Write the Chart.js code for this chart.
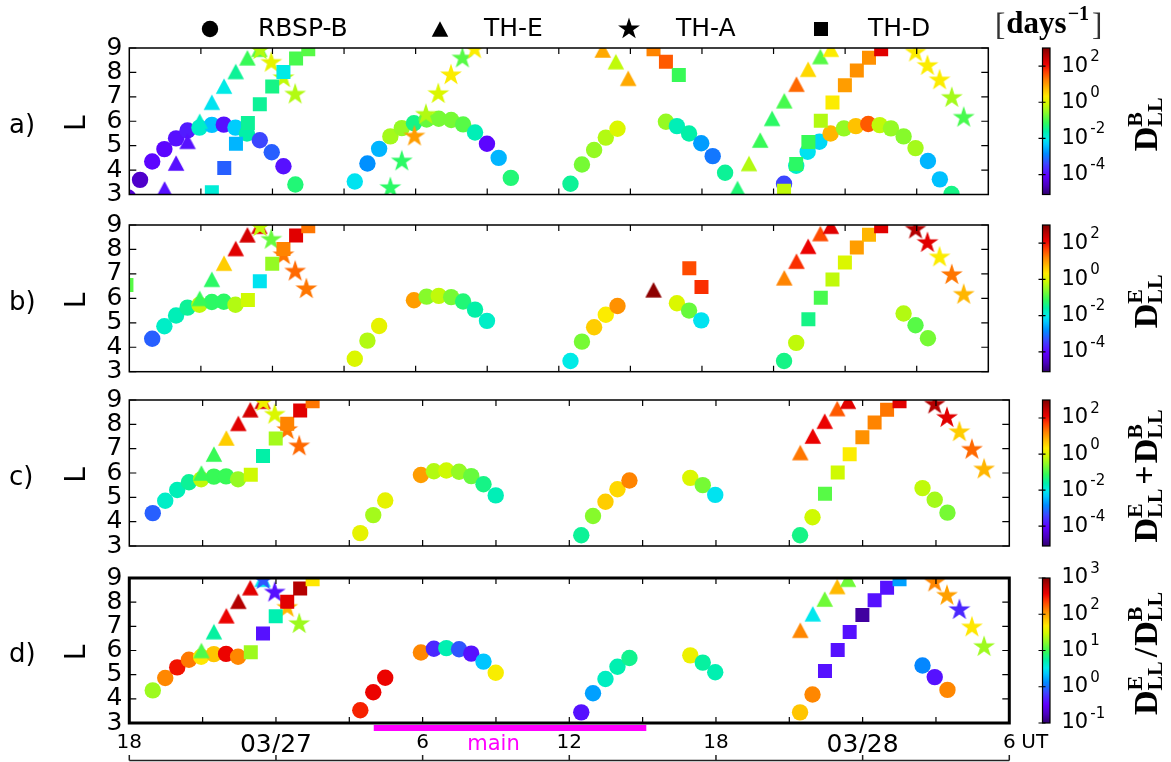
<!DOCTYPE html>
<html>
<head>
<meta charset="utf-8">
<title>Radial diffusion coefficients along spacecraft orbits</title>
<script src="https://cdn.jsdelivr.net/npm/chart.js@4.4.1/dist/chart.umd.min.js"></script>
<style>
  html, body { margin: 0; padding: 0; background: #ffffff; }
  #figure { position: relative; width: 1171px; height: 762px; overflow: hidden; background: #fff; }
  #figure canvas { position: absolute; left: 0; top: 0; }
</style>
</head>
<body>
<div id="figure">
  <canvas id="panelA" width="1171" height="762"></canvas>
  <canvas id="panelB" width="1171" height="762"></canvas>
  <canvas id="panelC" width="1171" height="762"></canvas>
  <canvas id="panelD" width="1171" height="762"></canvas>
</div>
<script>
// Time axis: hours since 03/26 18:00 UT (0 ... 36 h)
const hourTicks = [0, 6, 12, 18, 24, 30, 36];
const hourTickLabels = ['18', '03/27', '6', '12', '18', '03/28', '6'];
const mainPhase = [10.0, 21.15];
const lTicks = [3, 4, 5, 6, 7, 8, 9];

// ---- RBSP-B (circles) ----
const rbspTime = [-0.05, 0.45, 0.96, 1.47, 1.96, 2.44, 2.94, 3.46, 3.96, 4.45, 4.93, 5.47, 5.97, 6.46, 6.96,
  9.45, 9.98, 10.47, 10.94, 11.42, 11.93, 12.46, 12.97, 13.49, 13.99, 14.49, 14.99, 15.48, 15.99,
  18.49, 18.97, 19.48, 19.97, 20.46, 22.49, 22.95, 23.46, 23.97, 24.45, 24.97,
  27.44, 27.95, 28.43, 28.92, 29.39, 29.95, 30.45, 30.97, 31.45, 31.92, 32.45, 32.95, 33.47, 33.97, 34.46];
const rbspL = [2.88, 3.6, 4.35, 4.86, 5.3, 5.62, 5.74, 5.85, 5.86, 5.74, 5.5, 5.22, 4.73, 4.16, 3.41,
  3.53, 4.27, 4.87, 5.38, 5.72, 5.92, 6.07, 6.1, 6.05, 5.87, 5.54, 5.08, 4.5, 3.68,
  3.44, 4.23, 4.82, 5.33, 5.69, 5.98, 5.8, 5.5, 5.1, 4.57, 3.89,
  3.44, 4.18, 4.75, 5.16, 5.5, 5.71, 5.8, 5.89, 5.84, 5.71, 5.38, 4.9, 4.37, 3.62, 3.02];
// log10 of D_LL^B, D_LL^E, D_LL^E + D_LL^B and D_LL^E / D_LL^B  (days^-1)
const rbspLogDB = [-4.4, -4.5, -4.0, -4.0, -3.9, -3.8, -1.8, -2.4, -3.9, -2.3, -1.6, -3.4, -3.2, -3.9, -1.3,
  -2.1, -2.8, -2.5, -0.4, -0.5, -1.4, -0.8, -0.7, -0.7, -0.9, -1.7, -4.0, -2.5, -1.3,
  -1.5, -0.7, -0.5, -0.3, 0.0, -0.5, -1.7, -1.6, -2.7, -3.0, -1.5,
  -3.4, -1.8, -2.1, -2.2, 0.8, -0.5, 0.7, 1.5, -0.2, -0.5, -0.6, -0.4, -2.5, -2.4, -1.4];
const rbspLogDE = [null, null, -3.2, -1.8, -1.7, -1.5, -0.2, -1.2, -1.2, -0.3, null, null, null, null, null,
  0.0, -0.3, 0.1, null, null, 1.0, -0.6, -0.2, -0.7, -1.3, -1.6, -1.8, null, null,
  -2.0, -0.7, 0.6, 0.3, 1.1, null, 0.0, -0.8, -2.1, null, null,
  -1.4, -0.2, null, null, null, null, null, null, null, null, -0.3, -0.9, -0.7, null, null];
const rbspLogSum = [null, null, -3.2, -1.8, -1.7, -1.5, -0.2, -1.1, -1.1, -0.5, null, null, null, null, null,
  0.1, -0.4, 0.1, null, null, 1.0, -0.3, -0.1, -0.5, -0.8, -1.4, -1.7, null, null,
  -1.5, -0.6, 0.6, 0.5, 1.2, null, 0.0, -0.7, -2.1, null, null,
  -1.4, -0.1, null, null, null, null, null, null, null, null, -0.2, -0.4, -0.7, null, null];
const rbspLogRatio = [null, null, 1.3, 2.1, 2.5, 2.15, 1.7, 1.85, 2.55, 2.1, null, null, null, null, null,
  2.45, 2.55, 2.55, null, null, 2.1, -0.3, 0.7, -0.1, -0.4, 0.35, 1.65, null, null,
  -0.4, 0.2, 0.65, 0.7, 0.8, null, 1.6, 0.75, 0.7, null, null,
  1.85, 2.1, null, null, null, null, null, null, null, null, 0.1, -0.4, 2.1, null, null];

// ---- TH-E (triangles) ----
const theTime = [1.48, 1.96, 2.44, 2.95, 3.46, 3.97, 4.46, 4.95, 5.45,
  19.84, 20.39, 20.91, 21.97,
  25.49, 25.97, 26.44, 26.94, 27.45, 27.96, 28.45, 28.96, 29.4];
const theL = [3.23, 4.29, 5.18, 6.0, 6.78, 7.44, 8.04, 8.6, 8.95,
  8.92, 8.44, 7.76, 6.35,
  3.25, 4.27, 5.23, 6.12, 6.84, 7.52, 8.13, 8.65, 8.95];
const theLogDB = [-3.9, -3.9, -3.9, -1.8, -2.1, -2.0, -1.5, -1.1, -0.9,
  0.9, -0.2, 0.9, null,
  -1.3, -0.3, -1.1, -1.2, -1.0, 1.4, 0.5, -0.9, 0.3];
const theLogDE = [null, null, null, -1.1, -1.2, 0.6, 2.2, 2.3, 2.2,
  null, null, null, 2.9,
  null, null, null, null, 1.2, 1.8, 2.1, 1.6, 2.2];
const theLogSum = [null, null, null, -1.1, -1.1, 0.6, 2.2, 2.3, 2.3,
  null, null, null, null,
  null, null, null, null, 1.3, 2.1, 2.1, 1.5, 2.2];
const theLogRatio = [null, null, null, 1.05, 0.75, 2.55, 2.8, 2.6, 0.5,
  null, null, null, null,
  null, null, null, null, 2.1, 0.5, 1.15, 1.9, 1.15];

// ---- TH-A (stars) ----
const thaTime = [5.48, 5.95, 6.46, 6.95, 7.42,
  10.94, 11.42, 11.95, 12.43, 12.95, 13.48, 13.96, 14.47,
  32.95, 33.45, 33.96, 34.47, 34.97];
const thaL = [8.92, 8.4, 7.77, 7.1, 6.38,
  3.27, 4.36, 5.38, 6.27, 7.12, 7.89, 8.58, 8.95,
  8.82, 8.27, 7.68, 6.96, 6.15];
const thaLogDB = [-0.3, 0.1, -0.2, -0.3, null,
  -1.2, -1.2, 1.0, -0.3, 0.0, 0.3, -0.9, 0.3,
  0.3, 0.3, 0.3, -0.4, -1.0];
const thaLogDE = [-0.2, -0.8, 1.3, 1.4, 1.3,
  null, null, null, null, null, null, null, null,
  2.6, 2.2, 0.3, 1.3, 0.8];
const thaLogSum = [0.2, 0.0, 1.3, 1.4, null,
  null, null, null, null, null, null, null, null,
  2.6, 2.2, 0.6, 1.4, 0.8];
const thaLogRatio = [-0.1, -0.4, 1.9, 1.3, null,
  null, null, null, null, null, null, null, null,
  2.1, 2.0, -0.3, 1.7, 1.3];

// ---- TH-D (squares) ----
const thdTime = [-0.12, 3.46, 3.98, 4.47, 4.97, 5.47, 5.99, 6.46, 6.99, 7.5,
  21.97, 22.49, 23.03, 23.47, 23.98,
  27.44, 27.95, 28.46, 28.98, 29.47, 29.99, 30.49, 31.0, 31.51];
const thdL = [6.55, 3.09, 4.09, 5.08, 5.93, 6.7, 7.42, 8.02, 8.57, 8.95,
  8.95, 8.44, 7.89, 7.23, 6.46,
  3.15, 4.25, 5.15, 6.02, 6.77, 7.47, 8.08, 8.6, 8.95];
const thdLogDB = [null, -1.9, -3.2, -2.5, -1.5, -1.5, -1.4, -2.0, -1.0, -0.9,
  1.2, 1.5, -1.1, null, null,
  -0.2, -1.2, -1.1, -0.3, 0.3, 1.0, 1.1, 1.1, 2.2];
const thdLogDE = [-0.9, null, null, null, -0.1, -2.1, -0.5, 1.2, 2.2, 1.3,
  null, null, null, 1.6, 1.8,
  null, null, -1.4, -1.0, -0.2, 0.0, 1.0, 0.8, 2.2];
const thdLogSum = [null, null, null, null, -0.1, -1.6, -0.4, 1.2, 2.2, 1.3,
  null, null, null, null, null,
  null, null, -0.9, -0.1, 0.3, 1.1, 1.2, 1.3, 2.2];
const thdLogRatio = [null, null, null, null, 1.3, -0.4, 0.7, 2.6, 2.8, 1.7,
  null, null, null, null, null,
  null, null, -0.4, -0.4, -0.4, -0.85, -0.4, -0.4, 0.2];

// ---- colour scale ----
const cmapStops = [
  [0.00, [48, 0, 110]], [0.06, [75, 0, 190]], [0.13, [95, 0, 255]], [0.21, [60, 70, 255]],
  [0.28, [0, 140, 255]], [0.34, [0, 200, 255]], [0.38, [0, 235, 235]], [0.43, [0, 240, 170]],
  [0.49, [50, 250, 90]], [0.56, [140, 250, 40]], [0.62, [210, 250, 0]], [0.67, [255, 235, 0]],
  [0.72, [255, 190, 0]], [0.78, [255, 130, 0]], [0.84, [255, 60, 0]], [0.89, [235, 0, 0]],
  [0.95, [180, 0, 0]], [1.00, [128, 0, 0]]
];
function cmap(f) {
  f = Math.min(1, Math.max(0, f));
  for (let i = 1; i < cmapStops.length; i++) {
    if (f <= cmapStops[i][0]) {
      const [f0, c0] = cmapStops[i - 1];
      const [f1, c1] = cmapStops[i];
      const t = (f - f0) / (f1 - f0);
      const c = c0.map((v, k) => Math.round(v + (c1[k] - v) * t));
      return `rgb(${c[0]},${c[1]},${c[2]})`;
    }
  }
  return 'rgb(128,0,0)';
}

const SANS = '"DejaVu Sans", "Liberation Sans", sans-serif';
const SERIF = '"Liberation Serif", "DejaVu Serif", serif';

// ---- marker shapes ----
function starPath(ctx, cx, cy, R) {
  const r = R * 0.382;
  ctx.beginPath();
  for (let k = 0; k < 10; k++) {
    const ang = -Math.PI / 2 + k * Math.PI / 5;
    const rad = k % 2 === 0 ? R : r;
    const px = cx + rad * Math.cos(ang), py = cy + rad * Math.sin(ang);
    if (k === 0) ctx.moveTo(px, py); else ctx.lineTo(px, py);
  }
  ctx.closePath();
}
function trianglePath(ctx, cx, cy, w, h) {
  ctx.beginPath();
  ctx.moveTo(cx, cy - h / 2);
  ctx.lineTo(cx + w / 2, cy + h / 2);
  ctx.lineTo(cx - w / 2, cy + h / 2);
  ctx.closePath();
}
const markerCache = {};
function markerCanvas(kind, color) {
  const key = kind + color;
  if (markerCache[key]) return markerCache[key];
  const c = document.createElement('canvas');
  const size = kind === 'star' ? 26 : 18;
  c.width = size; c.height = size;
  const g = c.getContext('2d');
  g.fillStyle = color;
  if (kind === 'star') starPath(g, size / 2, size / 2, 11.5);
  else trianglePath(g, size / 2, size / 2, 16.5, 15.5);
  g.fill();
  markerCache[key] = c;
  return c;
}

// ---- panels ----
const titleB = [{ t: 'D' }, { sup: 'B', sub: 'LL' }];
const titleE = [{ t: 'D' }, { sup: 'E', sub: 'LL' }];
const titleSum = [{ t: 'D' }, { sup: 'E', sub: 'LL' }, { t: '+' }, { t: 'D' }, { sup: 'B', sub: 'LL' }];
const titleRatio = [{ t: 'D' }, { sup: 'E', sub: 'LL' }, { t: '/' }, { t: 'D' }, { sup: 'B', sub: 'LL' }];

const panels = [
  { canvas: 'panelA', top: 48, bottom: 194.5, right: 988.3, vmin: -5.1, vmax: 3, cbTicks: [-4, -2, 0, 2], frame: 1.5, tag: 'a)', title: titleB,
    vals: [rbspLogDB, theLogDB, thaLogDB, thdLogDB] },
  { canvas: 'panelB', top: 225, bottom: 371.7, right: 988.3, vmin: -5.1, vmax: 3, cbTicks: [-4, -2, 0, 2], frame: 1.5, tag: 'b)', title: titleE,
    vals: [rbspLogDE, theLogDE, thaLogDE, thdLogDE] },
  { canvas: 'panelC', top: 400, bottom: 546, right: 1009.3, vmin: -5.1, vmax: 3, cbTicks: [-4, -2, 0, 2], frame: 1.5, tag: 'c)', title: titleSum,
    vals: [rbspLogSum, theLogSum, thaLogSum, thdLogSum] },
  { canvas: 'panelD', top: 578, bottom: 723, right: 1009.3, vmin: -1, vmax: 3, cbTicks: [-1, 0, 1, 2, 3], frame: 3, tag: 'd)', title: titleRatio,
    vals: [rbspLogRatio, theLogRatio, thaLogRatio, thdLogRatio], timeLabels: true }
];
const plotLeft = 129.3;
const yAxisWidth = 60;
const cbX = 1042.5, cbW = 7.5;

function valueColor(v, p) { return cmap((v - p.vmin) / (p.vmax - p.vmin)); }

function markerDataset(kind, time, L, vals, p) {
  const data = [];
  time.forEach((t, i) => { if (vals[i] !== null) data.push({ x: t, y: L[i], v: vals[i] }); });
  const colorFn = ctx => valueColor(ctx.raw ? ctx.raw.v : 0, p);
  const ds = { data, clip: 0, showLine: false, borderWidth: 0, pointBorderWidth: 0, pointHoverBorderWidth: 0 };
  if (kind === 'circle') return Object.assign(ds, { pointStyle: 'circle', pointRadius: 8.2, pointHoverRadius: 8.2, pointBackgroundColor: colorFn, backgroundColor: colorFn });
  if (kind === 'rect') return Object.assign(ds, { pointStyle: 'rect', pointRadius: 9.9, pointHoverRadius: 9.9, pointBackgroundColor: colorFn, backgroundColor: colorFn });
  return Object.assign(ds, { pointStyle: ctx => markerCanvas(kind, colorFn(ctx)), pointRadius: 9, pointHoverRadius: 9 });
}

function drawScriptLabel(ctx, parts, baseX, centerY) {
  const big = 34, small = 22;
  ctx.save();
  const segs = parts.map(s => {
    if (s.t) { ctx.font = `bold ${big}px ${SERIF}`; return Object.assign({ w: ctx.measureText(s.t).width + (s.t === 'D' ? 0 : 4) }, s); }
    ctx.font = `bold ${small}px ${SERIF}`;
    return Object.assign({ w: Math.max(ctx.measureText(s.sup).width, ctx.measureText(s.sub).width) + 2 }, s);
  });
  const total = segs.reduce((a, s) => a + s.w, 0);
  ctx.translate(baseX, centerY + total / 2);
  ctx.rotate(-Math.PI / 2);
  ctx.fillStyle = '#000';
  ctx.textBaseline = 'alphabetic';
  ctx.textAlign = 'left';
  let cx = 0;
  for (const s of segs) {
    if (s.t) {
      ctx.font = `bold ${big}px ${SERIF}`;
      ctx.fillText(s.t, cx + (s.t === 'D' ? 0 : 2), s.t === '+' ? -2 : 0);
    } else {
      ctx.font = `bold ${small}px ${SERIF}`;
      ctx.fillText(s.sup, cx, -15);
      ctx.fillText(s.sub, cx, 5);
    }
    cx += s.w;
  }
  ctx.restore();
}

function drawPower(ctx, exp, x, y) {
  ctx.fillStyle = '#000';
  ctx.textAlign = 'left';
  ctx.textBaseline = 'middle';
  ctx.font = `21px ${SANS}`;
  ctx.fillText('10', x, y);
  const w = ctx.measureText('10').width;
  ctx.font = `15px ${SANS}`;
  ctx.fillText(String(exp), x + w + 2, y - 9);
}

function makePanelPlugin(p, index) {
  return {
    id: 'panelDecor' + index,
    afterDatasetsDraw(chart) {
      const { ctx, chartArea: a, scales: { x, y } } = chart;
      ctx.save();
      ctx.strokeStyle = '#000';
      ctx.lineWidth = 1.2;
      ctx.beginPath();
      for (let h = 3; h < 36; h += 3) {
        const px = x.getPixelForValue(h);
        ctx.moveTo(px, a.bottom); ctx.lineTo(px, a.bottom - 6);
        ctx.moveTo(px, a.top); ctx.lineTo(px, a.top + 6);
      }
      lTicks.forEach(v => {
        const py = y.getPixelForValue(v);
        ctx.moveTo(a.left, py); ctx.lineTo(a.left + 7, py);
        ctx.moveTo(a.right, py); ctx.lineTo(a.right - 7, py);
      });
      ctx.stroke();
      ctx.lineWidth = p.frame;
      ctx.strokeRect(a.left, a.top, a.right - a.left, a.bottom - a.top);
      ctx.restore();
    },
    afterDraw(chart) {
      const { ctx, chartArea: a, scales: { x } } = chart;
      ctx.save();
      // colour bar
      const h = a.bottom - a.top;
      for (let py = Math.floor(a.top); py < Math.ceil(a.bottom); py++) {
        const f = (a.bottom - (py + 0.5)) / h;
        ctx.fillStyle = cmap(f);
        ctx.fillRect(cbX, Math.max(py, a.top), cbW, Math.min(py + 1, a.bottom) - Math.max(py, a.top));
      }
      ctx.strokeStyle = '#000';
      ctx.lineWidth = 1.2;
      ctx.strokeRect(cbX, a.top, cbW, h);
      ctx.beginPath();
      p.cbTicks.forEach(e => {
        const py = a.bottom - (e - p.vmin) / (p.vmax - p.vmin) * h;
        ctx.moveTo(cbX - 4, py); ctx.lineTo(cbX + 3, py);
        drawPower(ctx, e, 1061.5, py);
      });
      ctx.stroke();
      drawScriptLabel(ctx, p.title, 1157, (a.top + a.bottom) / 2 + 2);

      // panel tag and axis title
      const mid = (a.top + a.bottom) / 2;
      ctx.fillStyle = '#000';
      ctx.font = `26px ${SANS}`;
      ctx.textAlign = 'left';
      ctx.textBaseline = 'middle';
      ctx.fillText(p.tag, 9, mid + 5);
      ctx.save();
      ctx.translate(78, mid + 2);
      ctx.rotate(-Math.PI / 2);
      ctx.textAlign = 'center';
      ctx.font = `28px ${SANS}`;
      ctx.fillText('L', 0, 0);
      ctx.restore();

      if (index === 0) drawHeader(ctx);
      if (p.timeLabels) {
        // main phase bar
        const x0 = x.getPixelForValue(mainPhase[0]), x1 = x.getPixelForValue(mainPhase[1]);
        ctx.fillStyle = '#ff00ff';
        ctx.fillRect(x0, a.bottom + 2, x1 - x0, 6);
        ctx.font = `21px ${SANS}`;
        ctx.textAlign = 'center';
        ctx.textBaseline = 'middle';
        ctx.fillText('main', x.getPixelForValue(14.9), 745);
        ctx.fillStyle = '#000';
        ctx.font = `20px ${SANS}`;
        ctx.textAlign = 'left';
        ctx.fillText('UT', x.getPixelForValue(36) + 12, 742.5);
        // lower time line
        ctx.strokeStyle = '#222';
        ctx.lineWidth = 1.5;
        ctx.beginPath();
        ctx.moveTo(x.getPixelForValue(0), 760.5);
        ctx.lineTo(x.getPixelForValue(36), 760.5);
        hourTicks.forEach(t => {
          const px = x.getPixelForValue(t);
          ctx.moveTo(px, 760.5); ctx.lineTo(px, 755);
        });
        ctx.stroke();
      }
      ctx.restore();
    }
  };
}

function drawHeader(ctx) {
  ctx.save();
  ctx.fillStyle = '#000';
  ctx.font = `25px ${SANS}`;
  ctx.textAlign = 'left';
  ctx.textBaseline = 'middle';
  const y = 29;
  ctx.beginPath(); ctx.arc(210, y, 8.2, 0, Math.PI * 2); ctx.fill();
  ctx.fillText('RBSP-B', 258, y);
  trianglePath(ctx, 440, y, 16.5, 15.5); ctx.fill();
  ctx.fillText('TH-E', 484, y);
  starPath(ctx, 629, y, 11.5); ctx.fill();
  ctx.fillText('TH-A', 676, y);
  ctx.fillRect(814, y - 7, 14, 14);
  ctx.fillText('TH-D', 868, y);
  // unit of the colour scales
  ctx.textBaseline = 'alphabetic';
  let cx = 995;
  ctx.fillStyle = '#333';
  ctx.font = `31px ${SERIF}`;
  ctx.fillText('[', cx, 35); cx += ctx.measureText('[').width + 1;
  ctx.fillStyle = '#000';
  ctx.font = `bold 31px ${SERIF}`;
  ctx.fillText('days', cx, 33); cx += ctx.measureText('days').width + 1;
  ctx.font = `bold 20px ${SERIF}`;
  ctx.fillText('\u22121', cx, 20); cx += ctx.measureText('\u22121').width + 3;
  ctx.fillStyle = '#333';
  ctx.font = `31px ${SERIF}`;
  ctx.fillText(']', cx, 35);
  ctx.restore();
}

panels.forEach((p, index) => {
  const xHeight = p.timeLabels ? 30 : 0;
  const cfg = {
    type: 'scatter',
    data: {
      datasets: [
        markerDataset('rect', thdTime, thdL, p.vals[3], p),
        markerDataset('star', thaTime, thaL, p.vals[2], p),
        markerDataset('triangle', theTime, theL, p.vals[1], p),
        markerDataset('circle', rbspTime, rbspL, p.vals[0], p)
      ]
    },
    options: {
      responsive: false,
      animation: false,
      devicePixelRatio: 1,
      events: [],
      layout: { padding: { left: plotLeft - yAxisWidth, right: 1171 - p.right, top: p.top, bottom: 762 - p.bottom - xHeight } },
      plugins: { legend: { display: false }, tooltip: { enabled: false } },
      scales: {
        x: {
          type: 'linear', min: 0, max: 36,
          afterFit: s => { s.height = xHeight; },
          grid: { display: false, drawTicks: false, tickLength: 0 },
          border: { display: false },
          ticks: {
            display: !!p.timeLabels,
            stepSize: 3, autoSkip: false, maxRotation: 0, minRotation: 0, padding: 7.5,
            color: '#000',
            font: ctx => ({ family: SANS, size: (ctx.tick && (ctx.tick.value === 6 || ctx.tick.value === 30)) ? 25 : 20 }),
            callback: v => { const k = hourTicks.indexOf(Math.round(v)); return k >= 0 ? hourTickLabels[k] : ''; }
          }
        },
        y: {
          type: 'linear', min: 3, max: 9,
          afterFit: s => { s.width = yAxisWidth; },
          grid: { display: false, drawTicks: false, tickLength: 0 },
          border: { display: false },
          ticks: { stepSize: 1, autoSkip: false, padding: 7, color: '#000', font: { family: SANS, size: 25 } }
        }
      }
    },
    plugins: [makePanelPlugin(p, index)]
  };
  new Chart(document.getElementById(p.canvas), cfg);
});
</script>
</body>
</html>
